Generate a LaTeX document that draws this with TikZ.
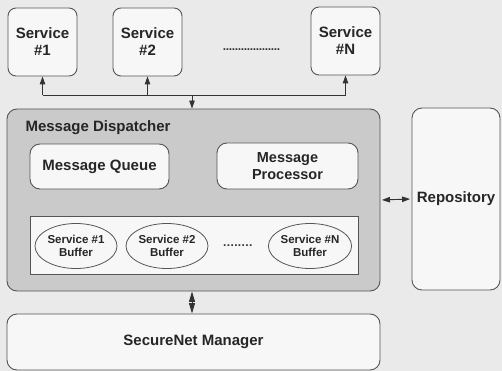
\documentclass[tikz,border=0pt]{standalone}
\usepackage{fontspec}
\setmainfont{Liberation Sans}
\usetikzlibrary{arrows.meta,shapes.geometric}
\definecolor{bgcol}{HTML}{EAEAEA}
\definecolor{boxcol}{HTML}{F7F7F7}
\definecolor{dispcol}{HTML}{CACACA}
\definecolor{linecol}{HTML}{555555}
\tikzset{
  box/.style={draw=linecol, line width=0.9pt, fill=boxcol, rounded corners=8pt,
    align=center, font=\bfseries\fontsize{15}{17}\selectfont, text=black!85, inner sep=0pt},
  buf/.style={draw=linecol, line width=0.8pt, fill=boxcol, ellipse, inner sep=0pt,
    minimum width=82pt, minimum height=45pt, align=center,
    font=\bfseries\fontsize{11.5}{13.5}\selectfont, text=black!85},
  conn/.style={draw=black!80, line width=0.9pt, {Triangle[length=8pt,width=5.5pt]}-{Triangle[length=8pt,width=5.5pt]}},
  diamondlink/.style={draw=black!80, line width=0.9pt, {Triangle[length=10.5pt,width=6pt]}-{Triangle[length=10.5pt,width=6pt]}},
  oneway/.style={draw=black!80, line width=0.9pt, -{Triangle[length=8pt,width=5.5pt]}},
  dots/.style={font=\bfseries\fontsize{12}{14}\selectfont, text=black!80}
}
\begin{document}
\begin{tikzpicture}[x=1pt, y=-1pt]
\useasboundingbox (0,0) rectangle (502,371);
\fill[bgcol] (0,0) rectangle (502,371);

% services on top
\node[box, minimum width=69pt, minimum height=68pt] (s1) at (42.5,42) {Service\\\#1};
\node[box, minimum width=69pt, minimum height=68pt] (s2) at (147.5,42) {Service\\\#2};
\node[box, minimum width=69pt, minimum height=68pt] (sN) at (345.5,41) {Service\\\#N};
\node[dots] (sdots) at (252,50) {\makebox[58pt]{\leaders\hbox to 3pt{\hss.\hss}\hfill}};

% dispatcher
\node[box, rounded corners=10pt, fill=dispcol, minimum width=373pt, minimum height=182pt] (disp) at (193.5,200) {};
\node[anchor=west, font=\bfseries\fontsize{15}{17}\selectfont, text=black!85] (dlabel) at (22,128) {Message Dispatcher};
\node[box, rounded corners=10pt, minimum width=139pt, minimum height=45pt] (queue) at (99.5,166.5) {Message Queue};
\node[box, rounded corners=10pt, minimum width=141pt, minimum height=46pt, font=\bfseries\fontsize{14.5}{17}\selectfont] (proc) at (287.5,166) {Message\\Processor};
\node[draw=linecol, line width=0.8pt, fill=boxcol, minimum width=328pt, minimum height=58pt] (bufs) at (194,245) {};
\node[buf] (b1) at (76,246) {Service \#1\\Buffer};
\node[buf] (b2) at (167,246) {Service \#2\\Buffer};
\node[buf] (bN) at (310,246) {Service \#N\\Buffer};
\node[dots] (bdots) at (239.5,246) {\makebox[33pt]{\leaders\hbox to 3.7pt{\hss.\hss}\hfill}};

% repository and manager
\node[box, rounded corners=10pt, minimum width=88pt, minimum height=182pt] (repo) at (456,199) {Repository};
\node[box, rounded corners=10pt, minimum width=373pt, minimum height=56pt] (sec) at (193.5,342) {SecureNet Manager};

% service bus
\coordinate (bus) at (192,95);
\draw[draw=black!80, line width=0.9pt] (s1.south |- bus) -- (sN.south |- bus);
\draw[oneway] (s1.south |- bus) -- (s1.south);
\draw[oneway] (s2.south |- bus) -- (s2.south);
\draw[oneway] (sN.south |- bus) -- (sN.south);
\draw[oneway] (bus) -- (bus |- disp.north);

% links to repository and manager
\draw[conn, shorten >=1.5pt, shorten <=1.5pt] (disp.east) -- (repo.west);
\draw[diamondlink] (disp.south -| bus) -- (sec.north -| bus);
\end{tikzpicture}
\end{document}
